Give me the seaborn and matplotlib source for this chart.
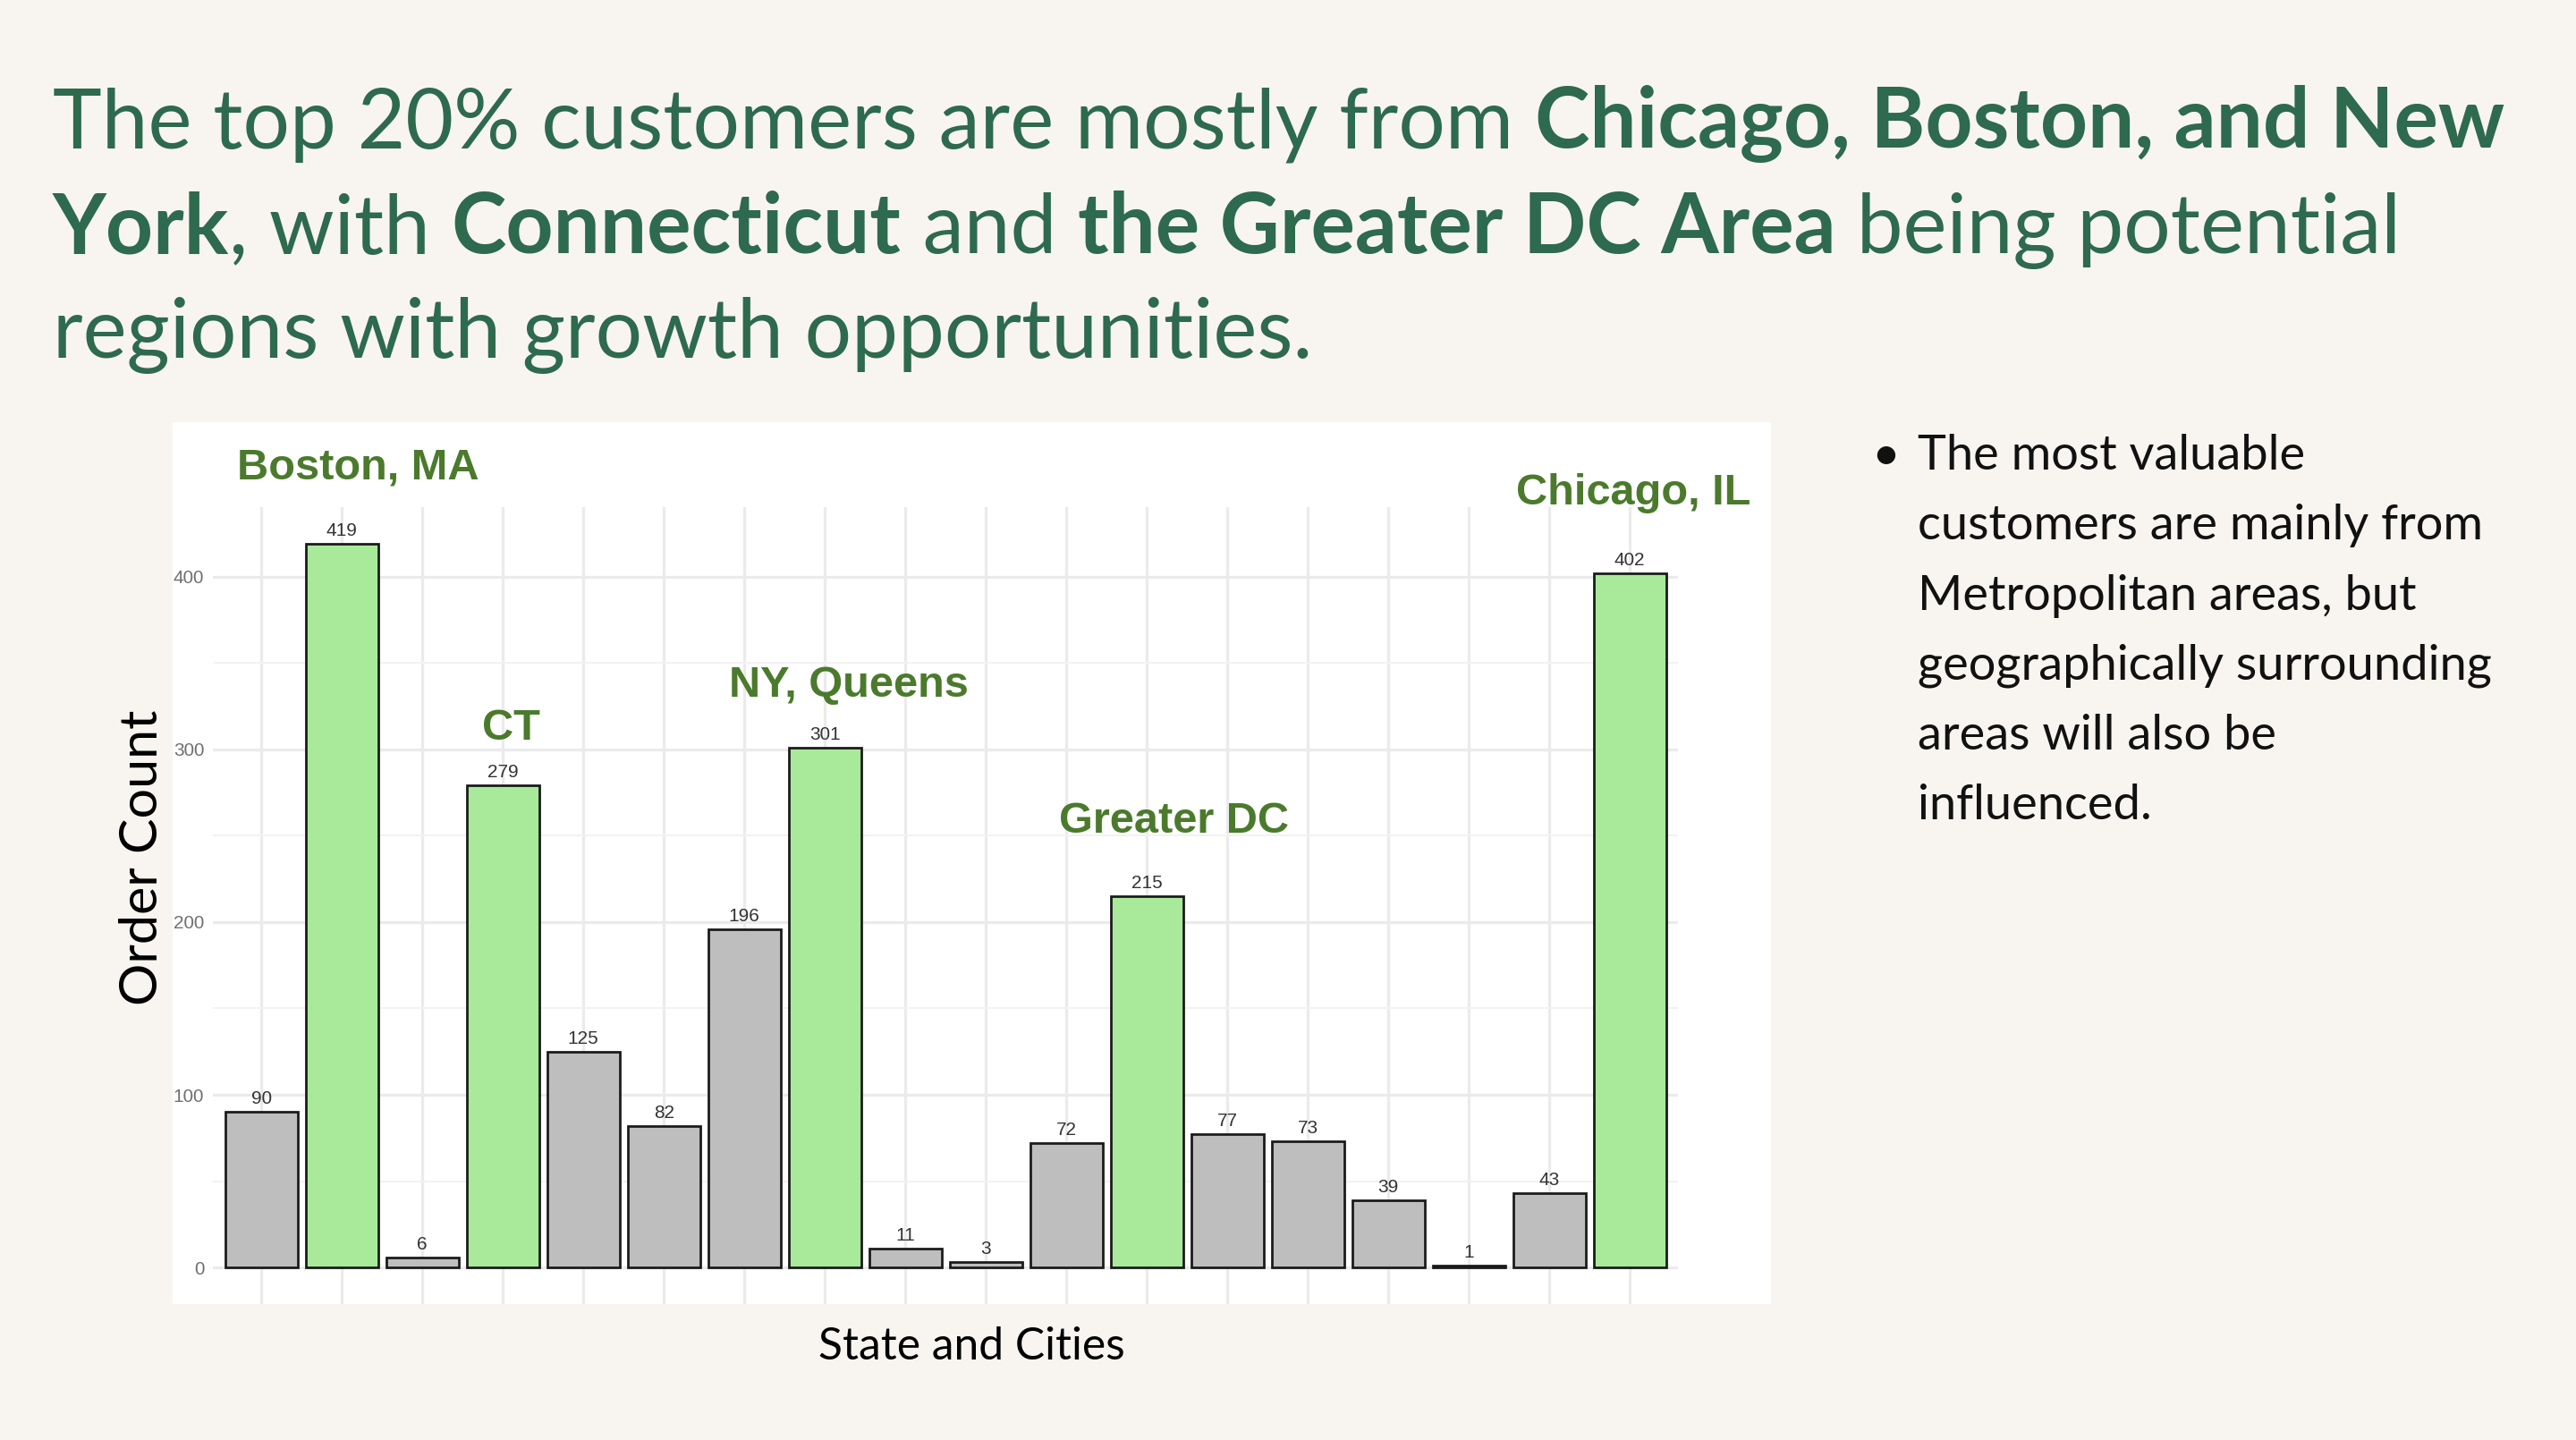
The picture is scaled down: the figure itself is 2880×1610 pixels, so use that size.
import numpy as np
import pandas as pd
import seaborn as sns
import matplotlib.pyplot as plt
from matplotlib.patches import Rectangle

# order counts per state / city group, left to right
order_counts = [90, 419, 6, 279, 125, 82, 196, 301, 11, 3, 72, 215, 77, 73, 39, 1, 43, 402]
highlight = [False, True, False, True, False, False, False, True, False, False,
             False, True, False, False, False, False, False, True]
bar_ids = [f'g{i:02d}' for i in range(len(order_counts))]

# region call-outs: (text, bar index, order count level)
callout_text = ['Boston, MA', 'CT', 'NY, Queens', 'Greater DC', 'Chicago, IL']
callout_x = [1.2, 3.1, 7.3, 11.34, 17.05]
callout_y = [463, 312, 337, 258, 448]

title_lines = [
    [('The top 20% customers are mostly from ', 'normal'), ('Chicago, Boston, and New', 'bold')],
    [('York', 'bold'), (', with ', 'normal'), ('Connecticut', 'bold'), (' and ', 'normal'),
     ('the Greater DC Area', 'bold'), (' being potential', 'normal')],
    [('regions with growth opportunities.', 'normal')],
]
bullet_lines = ['The most valuable', 'customers are mainly from', 'Metropolitan areas, but',
                'geographically surrounding', 'areas will also be', 'influenced.']

BG = '#F8F5F0'
TITLE_GREEN = '#2E6A4D'
LABEL_GREEN = '#4B7A2C'
BAR_GREEN = '#A8EA9A'
BAR_GRAY = '#BEBEBE'

sns.set_theme(style='white')
plt.rcParams['font.family'] = ['Lato', 'DejaVu Sans']

W, H, DPI = 2880, 1610, 180
fig = plt.figure(figsize=(W / DPI, H / DPI), dpi=DPI, facecolor=BG)
renderer = fig.canvas.get_renderer()

# white panel behind the chart
fig.patches.append(Rectangle((0.067, 0.0946), 0.6205, 0.6123, transform=fig.transFigure,
                             facecolor='white', edgecolor='none', zorder=-5))

ax = fig.add_axes([0.0827, 0.0946, 0.5687, 0.553])
ax.set_facecolor('white')

df = pd.DataFrame({'group': bar_ids, 'orders': order_counts, 'top': highlight})
sns.barplot(data=df, x='group', y='orders', hue='top', order=bar_ids,
            palette={True: BAR_GREEN, False: BAR_GRAY}, saturation=1, dodge=False, width=0.9,
            edgecolor='#1a1a1a', linewidth=1.1, legend=False, ax=ax, zorder=3)

for cont in ax.containers:
    ax.bar_label(cont, fontsize=8.3, color='#333333', padding=2,
                 family='Liberation Sans')

ax.set_xlim(-0.6, len(order_counts) - 0.4)
ax.set_ylim(-20.95, 439.95)
ax.set_yticks([0, 100, 200, 300, 400])
ax.set_yticks([50, 150, 250, 350], minor=True)
ax.set_xticks(range(len(order_counts)))
ax.set_xticklabels([])
ax.grid(which='major', color='#EBEBEB', lw=1.3, zorder=0)
ax.grid(which='minor', axis='y', color='#F2F2F2', lw=0.8, zorder=0)
ax.set_axisbelow(True)
ax.tick_params(axis='both', which='both', length=0, pad=4)
for lab in ax.get_yticklabels():
    lab.set_fontfamily('Liberation Sans')
    lab.set_fontsize(8.3)
    lab.set_color('#707070')
for s in ax.spines.values():
    s.set_visible(False)
ax.set_xlabel('')
ax.set_ylabel('')

for t, x, y in zip(callout_text, callout_x, callout_y):
    ax.text(x, y, t, ha='center', va='center', fontsize=19.5, fontweight='bold',
            color=LABEL_GREEN, family='Liberation Sans', clip_on=False, zorder=5)

# axis titles
yl = fig.text(160 / W, 1 - 959 / H, 'Order Count', rotation=90, ha='center', va='center',
              fontsize=25, color='black')
xl = fig.text(1086 / W, 1 - 1506 / H, 'State and Cities', ha='center', va='center',
              fontsize=19, color='black')
xw = xl.get_window_extent(renderer).width
xl.set_fontsize(19 * 342 / xw)
yl_h = yl.get_window_extent(renderer).height
yl.set_fontsize(25 * 331 / yl_h)

# headline, mixed regular / bold pieces
title_size = 40
baselines = [165, 283, 400]
x0 = 59
pieces = []
for li, line in enumerate(title_lines):
    x = x0
    for txt, wt in line:
        t = fig.text(x / W, 1 - baselines[li] / H, txt, fontsize=title_size,
                     fontweight=wt, color=TITLE_GREEN, va='baseline', ha='left')
        pieces.append((li, t))
        x += t.get_window_extent(renderer).width
    if li == 0:
        line1_w = x - x0
scale = 2742 / line1_w
for li in range(3):
    x = x0
    for l2, t in pieces:
        if l2 != li:
            continue
        t.set_fontsize(title_size * scale)
        t.set_x(x / W)
        x += t.get_window_extent(renderer).width

# side note
fig.text(2108 / W, 1 - 525 / H, '\u2022', fontsize=22, color='#111111', va='baseline', ha='center')
note = []
for i, line in enumerate(bullet_lines):
    note.append(fig.text(2144 / W, 1 - (525 + 78.3 * i) / H, line, fontsize=21,
                         color='#111111', va='baseline', ha='left'))
nw = note[3].get_window_extent(renderer).width
for t in note:
    t.set_fontsize(21 * 643 / nw)

fig.savefig('out.png', dpi=DPI, facecolor=BG)
